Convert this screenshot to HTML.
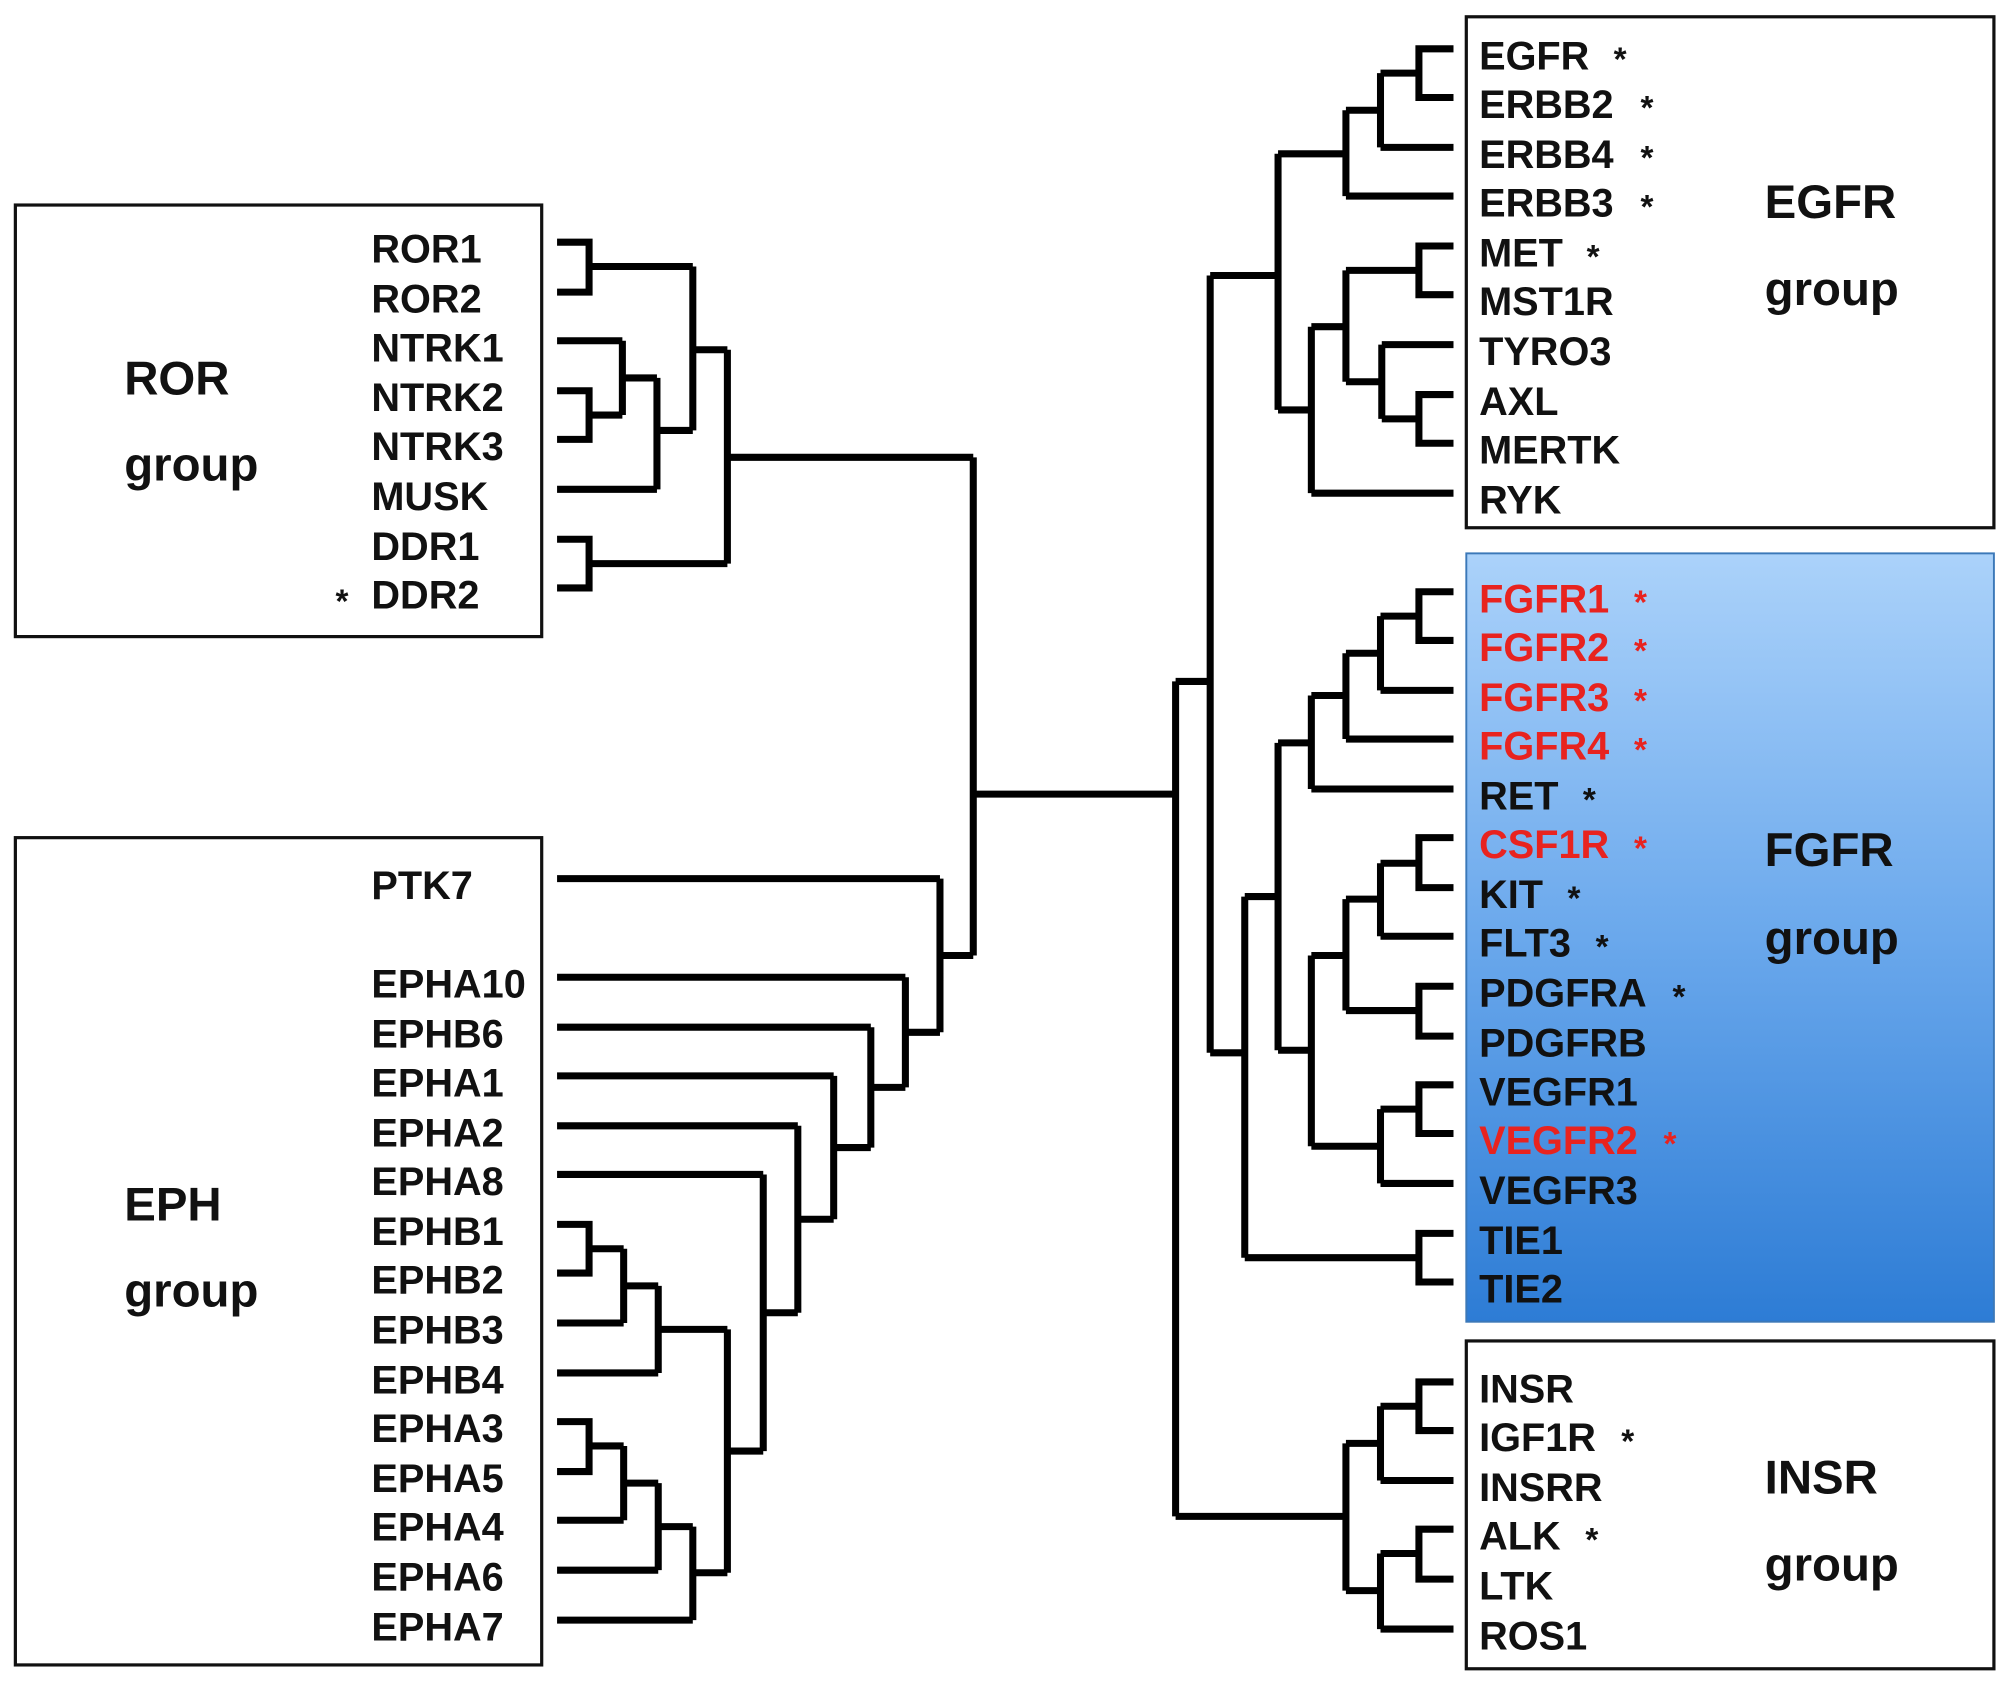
<!DOCTYPE html>
<html><head><meta charset="utf-8"><style>
html,body{margin:0;padding:0;background:#fff;}
svg{display:block;}
text{font-family:"Liberation Sans",Arial,sans-serif;font-weight:bold;}
.g{font-size:31px;fill:#111;}
.r{fill:#e8231f;}
.s{font-size:26px;fill:#111;}
.h{font-size:37px;fill:#111;}
</style></head><body>
<svg width="2008" height="1683" viewBox="0 0 1568 1314" xmlns="http://www.w3.org/2000/svg">
<defs>
<linearGradient id="bl" x1="0" y1="0" x2="0" y2="1">
<stop offset="0" stop-color="#abd2fa"/>
<stop offset="0.5" stop-color="#6aa8ec"/>
<stop offset="1" stop-color="#2d7cd5"/>
</linearGradient>
</defs>
<rect x="12" y="160" width="411" height="337" fill="#fff" stroke="#111" stroke-width="2.5"/>
<rect x="12" y="654" width="411" height="646" fill="#fff" stroke="#111" stroke-width="2.5"/>
<rect x="1145" y="13" width="412" height="399" fill="#fff" stroke="#111" stroke-width="2.5"/>
<rect x="1145" y="432" width="412" height="600" fill="url(#bl)" stroke="#3b78b8" stroke-width="1.5"/>
<rect x="1145" y="1047" width="412" height="256" fill="#fff" stroke="#111" stroke-width="2.5"/>

<g fill="none" stroke="#000" stroke-width="5.5" stroke-linecap="butt" stroke-linejoin="miter">
<path d="M435 189H460V228H435 M460 208H541 M435 266H486 M435 305H460V343H435 M460 324H486 M486 266V324 M486 295H513 M435 382H513 M513 295V382 M513 336H541 M541 208V336 M541 273H568 M435 421H460V459H435 M460 440H568 M568 273V440 M568 357H760"/>
<path d="M435 956H460V994H435 M460 975H487 M435 1033H487 M487 975V1033 M487 1004H514 M435 1072H514 M514 1004V1072 M514 1038H568 M435 1110H460V1149H435 M460 1129H487 M435 1187H487 M487 1129V1187 M487 1158H514 M435 1226H514 M514 1158V1226 M514 1192H541 M435 1265H541 M541 1192V1265 M541 1228H568 M568 1038V1228 M568 1133H596 M435 917H596 M596 917V1133 M596 1025H623 M435 879H623 M623 879V1025 M623 952H651 M435 840H651 M651 840V952 M651 896H680 M435 802H680 M680 802V896 M680 849H707 M435 763H707 M707 763V849 M707 806H734 M435 686H734 M734 686V806 M734 746H760 M760 357V746 M760 620H918"/>
<path d="M1135 38H1108V76H1135 M1108 57H1078 M1135 115H1078 M1078 57V115 M1078 86H1051 M1135 153H1051 M1051 86V153 M1051 120H998 M1135 192H1108V230H1135 M1108 211H1051 M1135 308H1108V346H1135 M1108 327H1079 M1135 269H1079 M1079 269V327 M1079 298H1051 M1051 211V298 M1051 255H1024 M1135 385H1024 M1024 255V385 M1024 320H998 M998 120V320 M998 215H945"/>
<path d="M1135 462H1108V500H1135 M1108 481H1078 M1135 539H1078 M1078 481V539 M1078 510H1051 M1135 577H1051 M1051 510V577 M1051 543H1024 M1135 616H1024 M1024 543V616 M1024 580H998 M1135 654H1108V693H1135 M1108 674H1078 M1135 731H1078 M1078 674V731 M1078 702H1051 M1135 770H1108V809H1135 M1108 789H1051 M1051 702V789 M1051 746H1024 M1135 847H1108V885H1135 M1108 866H1078 M1135 924H1078 M1078 866V924 M1078 895H1024 M1024 746V895 M1024 820H998 M998 580V820 M998 700H972 M1135 963H1108V1001H1135 M1108 982H972 M972 700V982 M972 822H945 M945 215V822 M945 532H918"/>
<path d="M1135 1079H1108V1117H1135 M1108 1098H1078 M1135 1156H1078 M1078 1098V1156 M1078 1127H1051 M1135 1194H1108V1233H1135 M1108 1213H1078 M1135 1272H1078 M1078 1213V1272 M1078 1242H1051 M1051 1127V1242 M1051 1184H918 M918 532V1184"/>
</g>

<g class="g">
<text x="290" y="205">ROR1</text><text x="290" y="244">ROR2</text><text x="290" y="282">NTRK1</text><text x="290" y="321">NTRK2</text><text x="290" y="359">NTRK3</text><text x="290" y="398">MUSK</text><text x="290" y="437">DDR1</text><text x="290" y="475">DDR2</text>
<text x="290" y="702">PTK7</text><text x="290" y="779">EPHA10</text><text x="290" y="818">EPHB6</text><text x="290" y="856">EPHA1</text><text x="290" y="895">EPHA2</text><text x="290" y="933">EPHA8</text><text x="290" y="972">EPHB1</text><text x="290" y="1010">EPHB2</text><text x="290" y="1049">EPHB3</text><text x="290" y="1088">EPHB4</text><text x="290" y="1126">EPHA3</text><text x="290" y="1165">EPHA5</text><text x="290" y="1203">EPHA4</text><text x="290" y="1242">EPHA6</text><text x="290" y="1281">EPHA7</text>
<text x="1155" y="54">EGFR</text><text x="1155" y="92">ERBB2</text><text x="1155" y="131">ERBB4</text><text x="1155" y="169">ERBB3</text><text x="1155" y="208">MET</text><text x="1155" y="246">MST1R</text><text x="1155" y="285">TYRO3</text><text x="1155" y="324">AXL</text><text x="1155" y="362">MERTK</text><text x="1155" y="401">RYK</text>
<text x="1155" y="478" class="r">FGFR1</text><text x="1155" y="516" class="r">FGFR2</text><text x="1155" y="555" class="r">FGFR3</text><text x="1155" y="593" class="r">FGFR4</text><text x="1155" y="632">RET</text><text x="1155" y="670" class="r">CSF1R</text><text x="1155" y="709">KIT</text><text x="1155" y="747">FLT3</text><text x="1155" y="786">PDGFRA</text><text x="1155" y="825">PDGFRB</text><text x="1155" y="863">VEGFR1</text><text x="1155" y="901" class="r">VEGFR2</text><text x="1155" y="940">VEGFR3</text><text x="1155" y="979">TIE1</text><text x="1155" y="1017">TIE2</text>
<text x="1155" y="1095">INSR</text><text x="1155" y="1133">IGF1R</text><text x="1155" y="1172">INSRR</text><text x="1155" y="1210">ALK</text><text x="1155" y="1249">LTK</text><text x="1155" y="1288">ROS1</text>
</g>
<g class="s">
<text x="262" y="478">*</text>
<text x="1260" y="55">*</text><text x="1281" y="93">*</text><text x="1281" y="132">*</text><text x="1281" y="170">*</text><text x="1239" y="209">*</text>
<text x="1276" y="479" class="r">*</text><text x="1276" y="517" class="r">*</text><text x="1276" y="556" class="r">*</text><text x="1276" y="594" class="r">*</text><text x="1236" y="633">*</text><text x="1276" y="671" class="r">*</text><text x="1224" y="710">*</text><text x="1246" y="748">*</text><text x="1306" y="787">*</text><text x="1299" y="902" class="r">*</text>
<text x="1266" y="1134">*</text><text x="1238" y="1211">*</text>
</g>
<g class="h">
<text x="97" y="308">ROR</text><text x="97" y="375">group</text>
<text x="97" y="953">EPH</text><text x="97" y="1020">group</text>
<text x="1378" y="170">EGFR</text><text x="1378" y="238">group</text>
<text x="1378" y="676">FGFR</text><text x="1378" y="745">group</text>
<text x="1378" y="1166">INSR</text><text x="1378" y="1234">group</text>
</g>
</svg>
</body></html>
